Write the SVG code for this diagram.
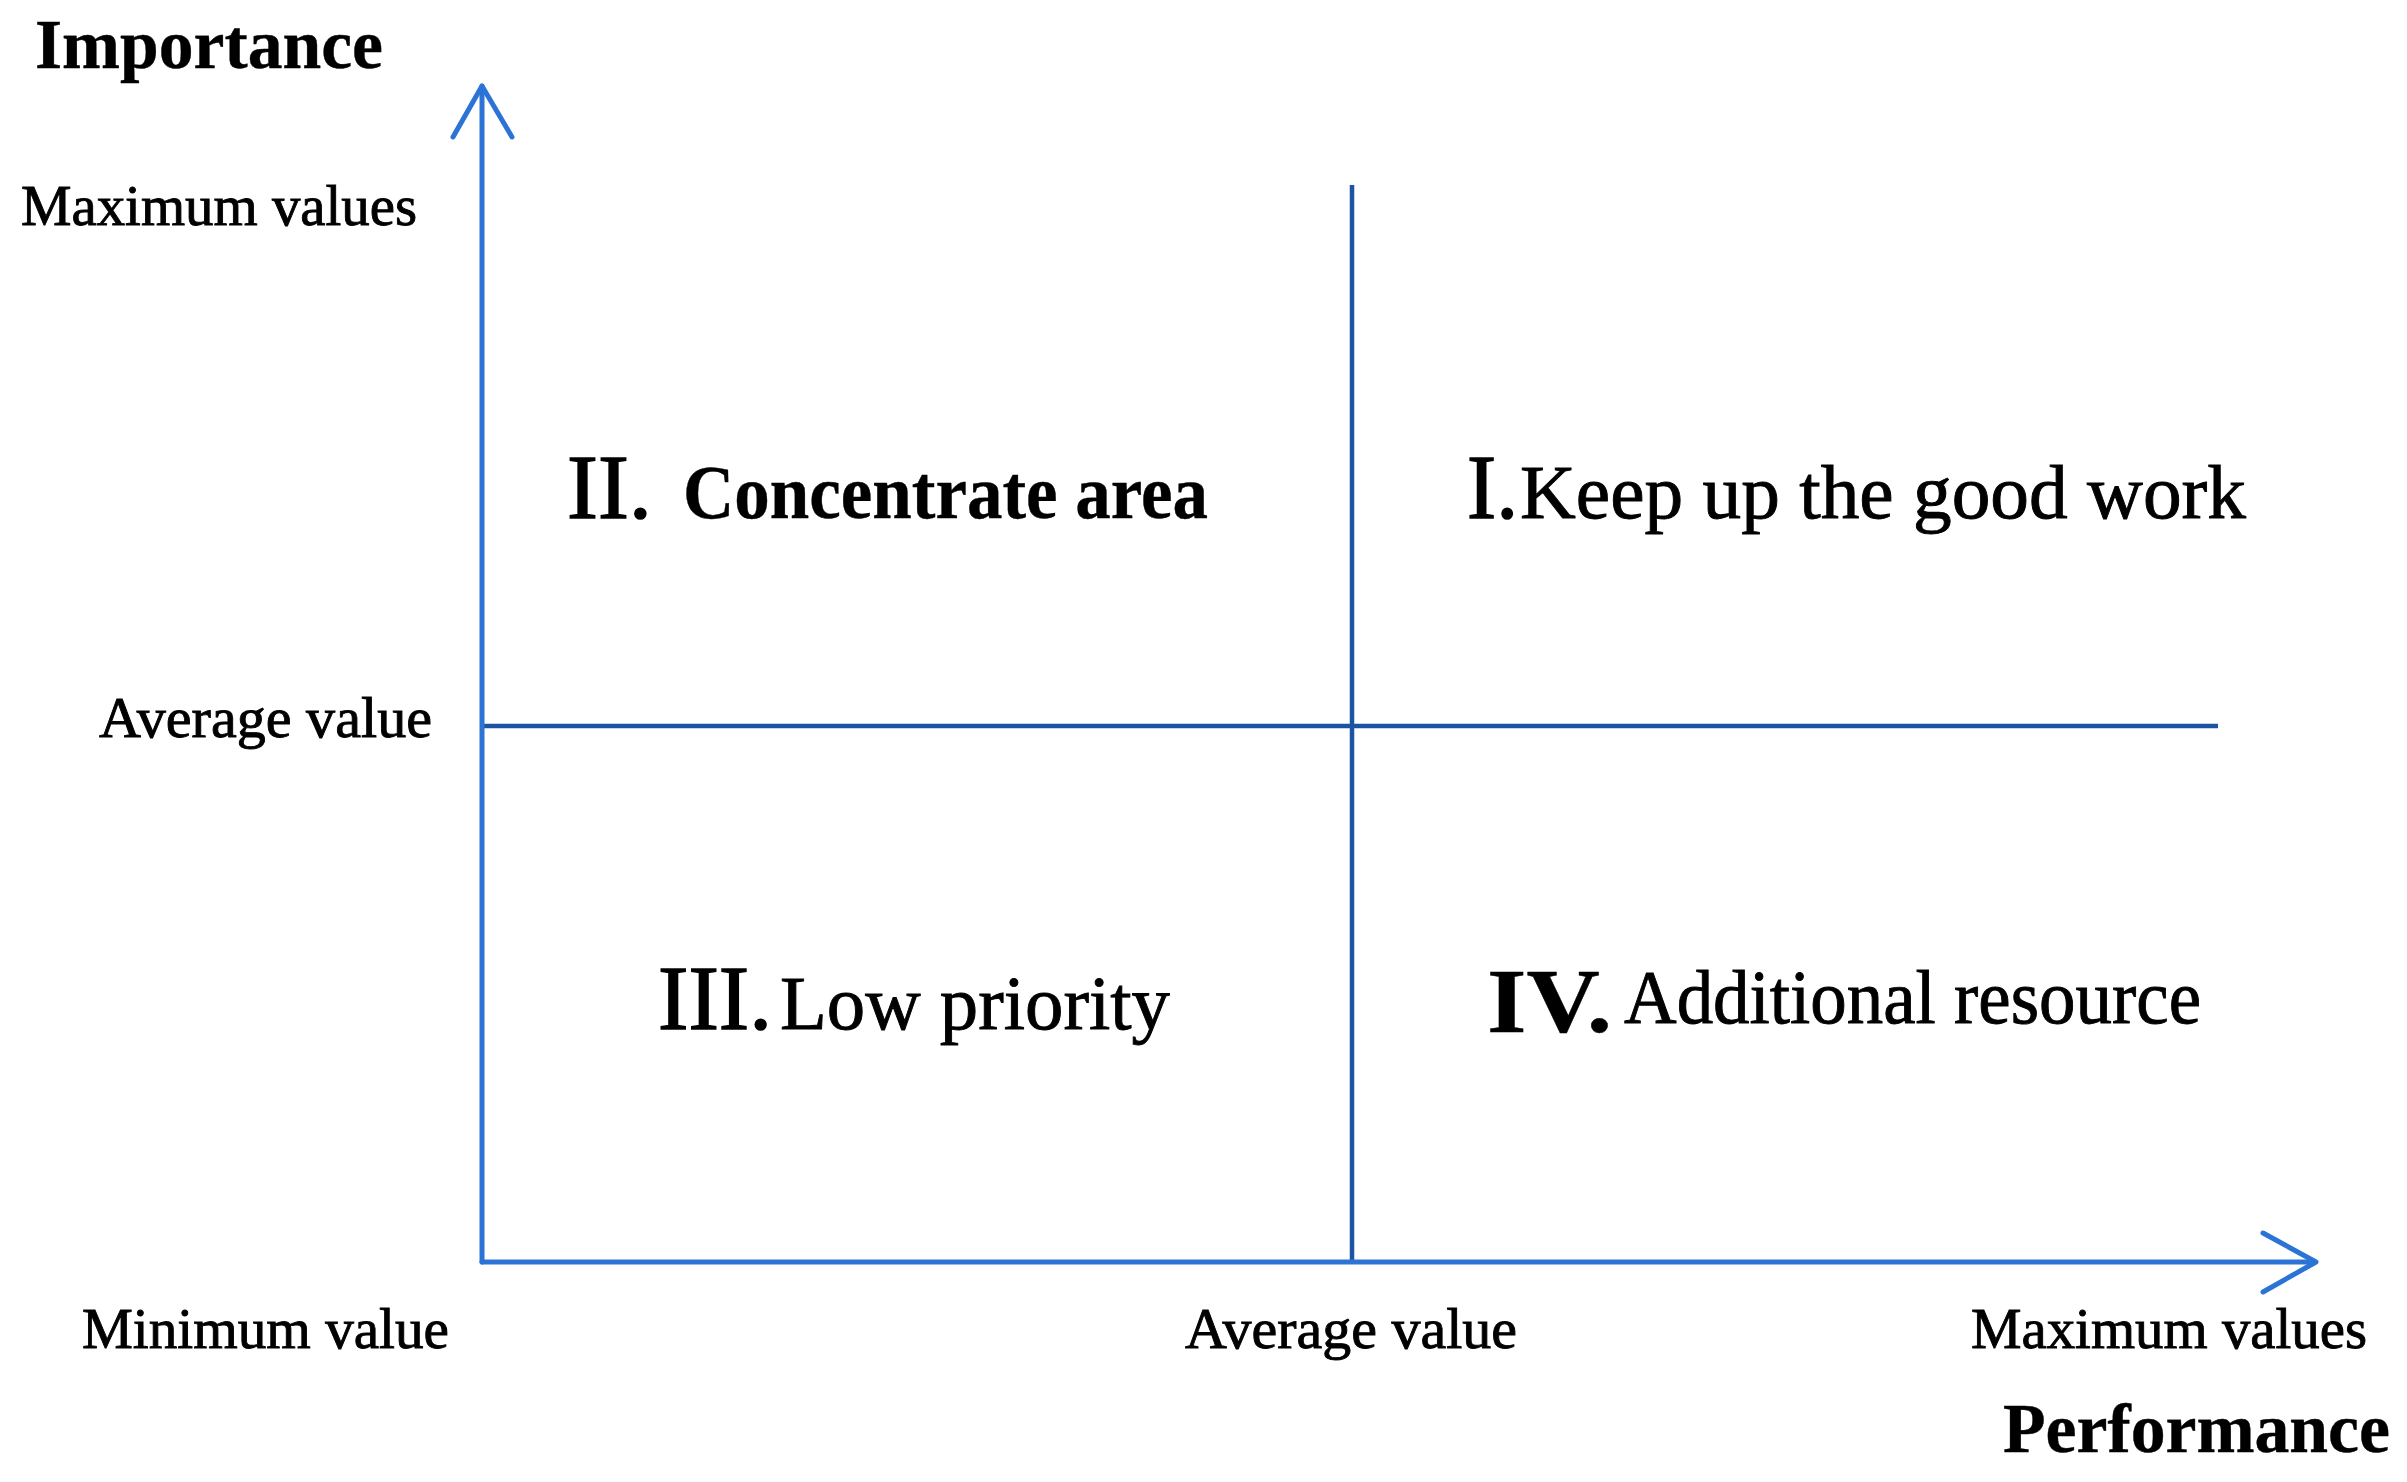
<svg xmlns="http://www.w3.org/2000/svg" width="2407" height="1482" viewBox="0 0 2407 1482">
<style>
text{font-family:"Liberation Serif","Times New Roman",serif;fill:#000;stroke:#000;stroke-width:0.9}
text.b{stroke-width:0.4}
.ax{fill:none;stroke:#2b74d6;stroke-width:5;stroke-linecap:round;stroke-linejoin:round}
.mid{fill:none;stroke:#1d53a3;stroke-width:4.5}
.lbl{font-size:57px}
.big{font-size:92px;stroke-width:1.6}
.q{font-size:76px}
.b{font-weight:bold}
</style>
<rect width="2407" height="1482" fill="#fff"/>
<g id="connectors">
<line class="mid" x1="1352" y1="185" x2="1352" y2="1262"/>
<line class="mid" x1="483" y1="726" x2="2218" y2="726"/>
<polyline class="ax" points="482,1262 482,86"/>
<polyline class="ax" points="453,137 482,86 512,137"/>
<polyline class="ax" points="482,1262 2314,1262"/>
<polyline class="ax" points="2263,1233 2316,1262 2263,1292"/>
</g>
<g id="axis-labels">
<text class="b" x="35" y="68" font-size="70" textLength="348" lengthAdjust="spacingAndGlyphs">Importance</text>
<text class="lbl" x="21" y="225" textLength="396" lengthAdjust="spacingAndGlyphs">Maximum values</text>
<text class="lbl" x="99" y="737" textLength="333" lengthAdjust="spacingAndGlyphs">Average value</text>
<text class="lbl" x="82" y="1348" textLength="367" lengthAdjust="spacingAndGlyphs">Minimum value</text>
<text class="lbl" x="1185" y="1348" textLength="332" lengthAdjust="spacingAndGlyphs">Average value</text>
<text class="lbl" x="1971" y="1348" textLength="396" lengthAdjust="spacingAndGlyphs">Maximum values</text>
<text class="b" x="2003" y="1452" font-size="70" textLength="387" lengthAdjust="spacingAndGlyphs">Performance</text>
</g>
<g id="q2">
<text class="big" x="567" y="518" textLength="85" lengthAdjust="spacingAndGlyphs">II.</text>
<text class="q b" x="683" y="518" font-size="72" textLength="525" lengthAdjust="spacingAndGlyphs">Concentrate area</text>
</g>
<g id="q1">
<text class="big" x="1467" y="518" textLength="51" lengthAdjust="spacingAndGlyphs">I.</text>
<text class="q" x="1520" y="518" textLength="726" lengthAdjust="spacingAndGlyphs">Keep up the good work</text>
</g>
<g id="q3">
<text class="big" x="658" y="1029" textLength="114" lengthAdjust="spacingAndGlyphs">III.</text>
<text class="q" x="780" y="1029" textLength="390" lengthAdjust="spacingAndGlyphs">Low priority</text>
</g>
<g id="q4">
<text class="big b" x="1487" y="1032" textLength="125" lengthAdjust="spacingAndGlyphs">IV.</text>
<text class="q" x="1624" y="1023" font-size="72" textLength="577" lengthAdjust="spacingAndGlyphs">Additional resource</text>
</g>
</svg>
